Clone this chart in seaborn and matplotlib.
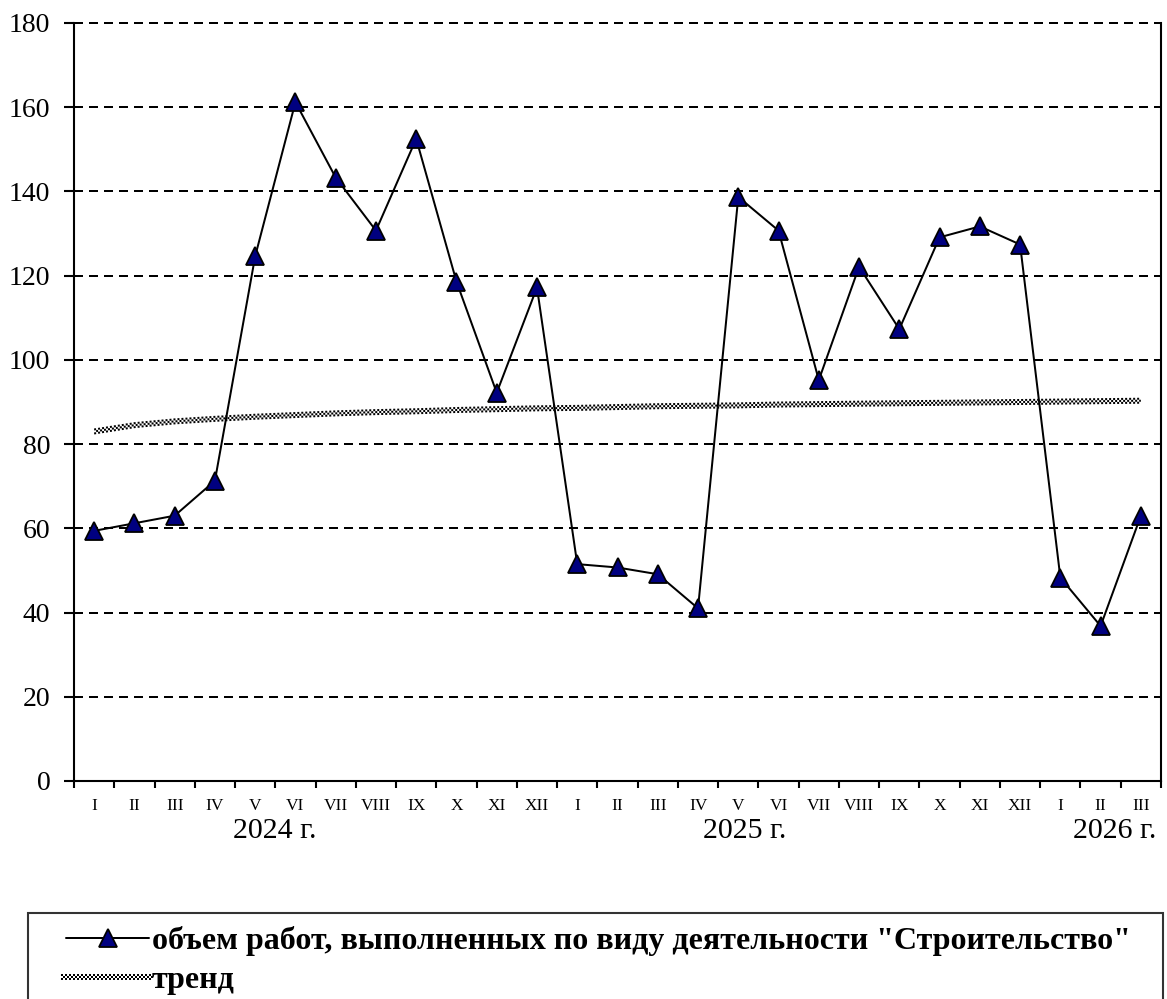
import numpy as np
import pandas as pd
import matplotlib
matplotlib.use("Agg")
import matplotlib.pyplot as plt
import seaborn as sns
from matplotlib.lines import Line2D
from matplotlib.legend_handler import HandlerBase
from matplotlib.transforms import offset_copy, blended_transform_factory
from matplotlib.ticker import FixedLocator

# ---------------- data ----------------
months = ["I", "II", "III", "IV", "V", "VI", "VII", "VIII", "IX", "X", "XI", "XII",
          "I", "II", "III", "IV", "V", "VI", "VII", "VIII", "IX", "X", "XI", "XII",
          "I", "II", "III"]
values_2024 = [59.4, 61.2, 63.0, 71.3, 124.6, 161.2, 143.3, 130.7, 152.5, 118.6, 92.2, 117.2]
values_2025 = [51.5, 50.7, 49.1, 41.0, 138.7, 130.7, 95.2, 122.1, 107.3, 129.1, 131.7, 127.4]
values_2026 = [48.3, 36.8, 63.0]
trend_values = [83.0, 84.5, 85.4, 86.0, 86.5, 86.9, 87.3, 87.6, 87.8, 88.1, 88.3, 88.5,
                88.6, 88.8, 89.0, 89.1, 89.2, 89.4, 89.5, 89.6, 89.7, 89.8, 89.9, 90.0,
                90.1, 90.2, 90.3]
year_labels = ["2024 г.", "2025 г.", "2026 г."]
series_label = 'объем работ, выполненных по виду деятельности "Строительство"'
trend_label = "тренд"

values = values_2024 + values_2025 + values_2026
df = pd.DataFrame({"x": np.arange(1, len(values) + 1), "y": values, "trend": trend_values})

# ---------------- style ----------------
sns.set_style("white")
plt.rcParams["font.family"] = ["Liberation Serif", "DejaVu Serif"]
plt.rcParams["lines.scale_dashes"] = False
for key in ["text.color", "axes.labelcolor", "xtick.color", "ytick.color",
            "xtick.labelcolor", "ytick.labelcolor"]:
    plt.rcParams[key] = "black"

W, H = 1167, 999
fig = plt.figure(figsize=(W / 100, H / 100), dpi=100)
ax = fig.add_axes([74 / W, 1 - 781 / H, (1161 - 74) / W, (781 - 23) / H])

PX = 0.72  # one pixel in points

# trend: white band with checkered black dashes on top
sns.lineplot(data=df, x="x", y="trend", ax=ax, color="white", lw=6.5 * PX,
             solid_capstyle="butt", zorder=3)
tx, ty = ax.lines[-1].get_data()
for k, off in enumerate([-2, 0, 2]):
    tr = offset_copy(ax.transData, fig=fig, x=0, y=off * PX, units="points")
    ax.plot(tx, ty, transform=tr, color="black", lw=2 * PX,
            linestyle=((k % 2) * 2 * PX, (2 * PX, 2 * PX)),
            dash_capstyle="butt", zorder=3.5)

# main series
sns.lineplot(data=df, x="x", y="y", ax=ax, color="black", lw=2 * PX,
             marker="^", markersize=12.5, markerfacecolor="#000080",
             markeredgecolor="black", markeredgewidth=1.3, zorder=5)

ax.set_xlabel("")
ax.set_ylabel("")
ax.set_xlim(0.5, len(values) + 0.5)
ax.set_ylim(0, 180)

# y axis
ax.set_yticks(np.arange(0, 181, 20))
ax.yaxis.grid(True, color="black", lw=2 * PX, linestyle=(0, (9 * PX, 6 * PX)))
for gl in ax.yaxis.get_gridlines():
    gl.set_clip_on(False)
ax.xaxis.grid(False)
ax.tick_params(axis="y", which="major", direction="out", length=7, width=1.5,
               color="black", labelcolor="black", labelsize=20, pad=10, left=True)

# x axis: ticks at boundaries, labels at centres
ax.xaxis.set_major_locator(FixedLocator(np.arange(0.5, len(values) + 1.0, 1.0)))
ax.xaxis.set_minor_locator(FixedLocator(df["x"].to_numpy()))
ax.set_xticklabels([], minor=False)
ax.set_xticklabels(months, minor=True)
ax.tick_params(axis="x", which="major", direction="out", length=5, width=1.5,
               color="black", bottom=True)
ax.tick_params(axis="x", which="minor", length=0, labelsize=12.5, pad=12,
               labelcolor="black")

for s in ["left", "bottom", "right"]:
    ax.spines[s].set_color("black")
    ax.spines[s].set_linewidth(1.5)
ax.spines["top"].set_visible(False)

# year labels
btr = blended_transform_factory(ax.transData, ax.transAxes)
for lbl, xpos in zip(year_labels, [5.49, 17.17, 26.36]):
    ax.text(xpos, -(831 - 781) / (781 - 23), lbl, transform=btr, ha="center",
            va="center", fontsize=21.5, color="black")


# legend handlers
INSET = 18  # points of empty space before the handle


class CheckerHandler(HandlerBase):
    def create_artists(self, legend, orig_handle, xdescent, ydescent, width,
                       height, fontsize, trans):
        y0 = height / 2 - ydescent
        x0, x1 = -xdescent + INSET - 4, width - xdescent + 2
        arts = [Line2D([x0, x1], [y0, y0], color="white", lw=6.5 * PX,
                       solid_capstyle="butt", transform=trans)]
        for k, off in enumerate([-2, 0, 2]):
            arts.append(Line2D([x0, x1], [y0 + off * PX] * 2, color="black",
                               lw=2 * PX,
                               linestyle=((k % 2) * 2 * PX, (2 * PX, 2 * PX)),
                               dash_capstyle="butt", transform=trans))
        return arts


class MarkerLineHandler(HandlerBase):
    def create_artists(self, legend, orig_handle, xdescent, ydescent, width,
                       height, fontsize, trans):
        y0 = height / 2 - ydescent
        x0, x1 = -xdescent + INSET, width - xdescent - 1
        ln = Line2D([x0, x1], [y0, y0], color="black", lw=2 * PX, transform=trans)
        mk = Line2D([(x0 + x1) / 2], [y0], linestyle="none", marker="^",
                    markersize=12.5, markerfacecolor="#000080",
                    markeredgecolor="black", markeredgewidth=1.3, transform=trans)
        return [ln, mk]


h_main = Line2D([], [], color="black")
h_trend = Line2D([], [], color="gray")
leg = fig.legend([h_main, h_trend], [series_label, trend_label],
                 handler_map={h_trend: CheckerHandler(), h_main: MarkerLineHandler()},
                 loc="upper left",
                 bbox_to_anchor=(28 / W, 1 - 913 / H, (1163 - 28) / W, 0.0),
                 mode="expand", borderaxespad=0, frameon=True, fancybox=False,
                 prop=dict(weight="bold", size=23), handlelength=3.4,
                 handletextpad=0.05, labelspacing=0.3, borderpad=0.42)
leg.get_frame().set_edgecolor("black")
leg.get_frame().set_linewidth(1.5)
for t in leg.get_texts():
    t.set_color("black")

fig.savefig("out.png", dpi=100)
